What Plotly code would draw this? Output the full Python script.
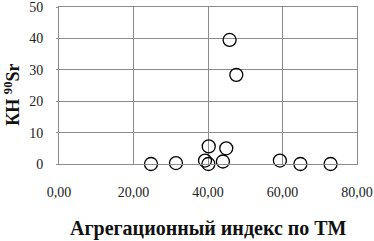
import plotly.graph_objects as go

agg_index = [45.8, 47.6, 40.2, 44.9, 24.7, 31.4, 39.2, 40.1, 44.0, 59.3, 64.8, 72.9]
kn_sr90 = [39.5, 28.4, 5.6, 5.0, 0.0, 0.3, 1.1, 0.0, 0.8, 1.1, 0.0, 0.0]

x_ticks = [0, 20, 40, 60, 80]
y_ticks = [0, 10, 20, 30, 40, 50]

serif = "Liberation Serif"
grid = "#8c8c8c"

fig = go.Figure()
fig.add_trace(go.Scatter(
    x=agg_index, y=kn_sr90, mode="markers",
    marker=dict(symbol="circle-open", size=13, color="black", line=dict(width=1.3, color="black")),
    showlegend=False, cliponaxis=False,
))

fig.update_layout(
    width=374, height=241,
    margin=dict(l=59, r=17, t=7, b=77),
    paper_bgcolor="white", plot_bgcolor="white",
    separators=", ",
    font=dict(family=serif, color="#222", size=14),
    xaxis=dict(
        range=[0, 80], tickvals=x_ticks, tickformat=".2f",
        showgrid=True, gridcolor=grid, gridwidth=1,
        showline=True, linecolor=grid, linewidth=1, mirror=True,
        zeroline=False, ticks="", ticklabelstandoff=15, automargin=False,
        ticklabeloverflow="allow",
        tickfont=dict(family=serif, size=14, color="#222"),
    ),
    yaxis=dict(
        range=[0, 50], tickvals=y_ticks,
        showgrid=True, gridcolor=grid, gridwidth=1,
        showline=True, linecolor=grid, linewidth=1, mirror=True,
        zeroline=False, ticks="outside", ticklen=2, tickcolor=grid,
        ticklabelstandoff=10, automargin=False,
        ticklabeloverflow="allow",
        tickfont=dict(family=serif, size=14, color="#222"),
    ),
    annotations=[
        dict(text="<b>Агрегационный индекс по ТМ</b>", xref="paper", yref="paper",
             x=0.5, y=-0.41, xanchor="center", yanchor="middle", showarrow=False,
             font=dict(family=serif, size=20, color="#111")),
        dict(text="<b>КН <sup>90</sup>Sr</b>", xref="paper", yref="paper",
             x=-0.155, y=0.44, xanchor="center", yanchor="middle", showarrow=False,
             textangle=-90, font=dict(family=serif, size=18, color="#111")),
    ],
)

fig.write_html("out.html", config={"displayModeBar": False},
               post_script="document.body.style.margin='0';document.body.style.overflow='hidden';")
